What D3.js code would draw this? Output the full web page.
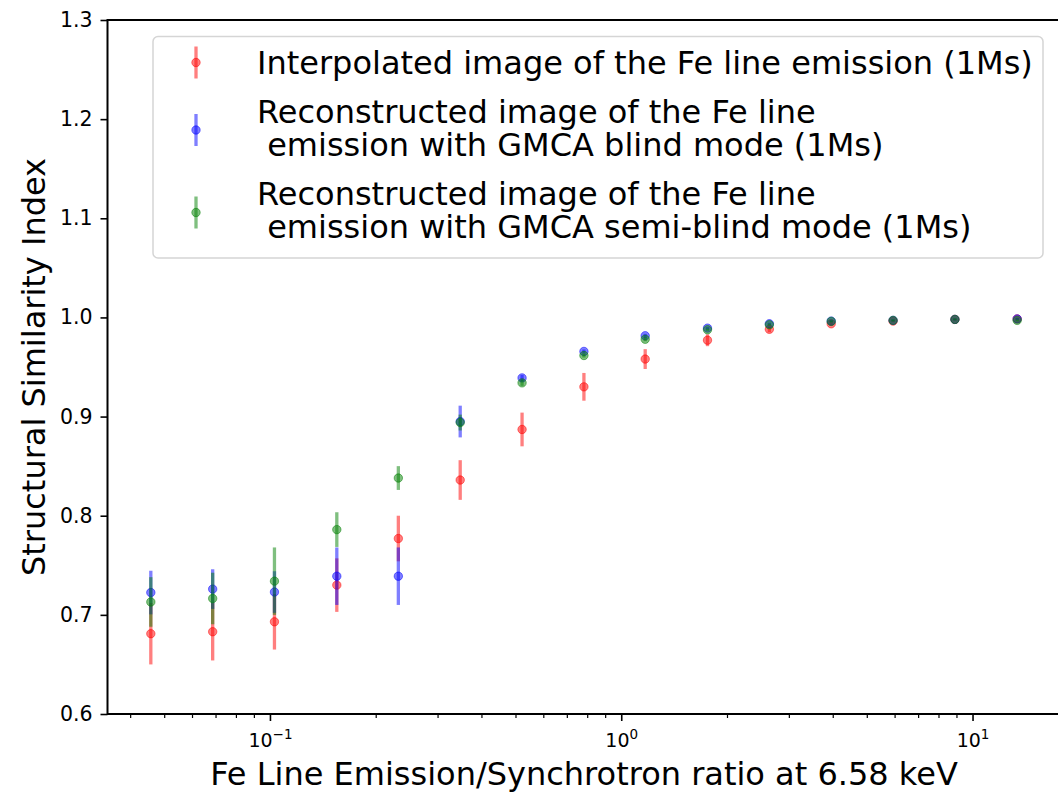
<!DOCTYPE html>
<html>
<head>
<meta charset="utf-8">
<script src="https://cdn.jsdelivr.net/npm/d3@7"></script>
<style>
  body { margin: 0; background: #fff; }
  svg { display: block; font-family: "DejaVu Sans", sans-serif; }
  .leg text { white-space: pre; }
</style>
</head>
<body>
<svg id="chart" width="1058" height="794"></svg>
<script>
// ratio Fe line / synchrotron
var ratios = [0.0458, 0.0687, 0.103, 0.155, 0.232, 0.348, 0.522, 0.783, 1.17, 1.76, 2.64, 3.96, 5.94, 8.91, 13.4];

var interpSSIM = [0.681, 0.683, 0.693, 0.730, 0.777, 0.836, 0.887, 0.930, 0.958, 0.977, 0.988, 0.9936, 0.9963, 0.998, 0.9985];
var interpErr  = [0.031, 0.029, 0.028, 0.027, 0.023, 0.020, 0.017, 0.014, 0.010, 0.006, 0.003, 0.002, 0.001, 0.001, 0.001];

var blindSSIM = [0.7225, 0.726, 0.723, 0.739, 0.739, 0.895, 0.939, 0.9657, 0.9815, 0.9892, 0.9936, 0.9963, 0.997, 0.998, 0.9985];
var blindErr  = [0.022, 0.020, 0.021, 0.029, 0.029, 0.016, 0.003, 0.002, 0.002, 0.001, 0.001, 0.001, 0.001, 0.001, 0.001];

var semiSSIM = [0.713, 0.7165, 0.734, 0.786, 0.838, 0.894, 0.934, 0.9616, 0.978, 0.9876, 0.9926, 0.996, 0.997, 0.998, 0.997];
var semiErr  = [0.025, 0.026, 0.034, 0.0175, 0.012, 0.008, 0.003, 0.002, 0.002, 0.001, 0.001, 0.001, 0.001, 0.001, 0.001];

var seriesNames = [
  ["Interpolated image of the Fe line emission (1Ms)"],
  ["Reconstructed image of the Fe line", " emission with GMCA blind mode (1Ms)"],
  ["Reconstructed image of the Fe line", " emission with GMCA semi-blind mode (1Ms)"]
];
var seriesColors = ["#ff0000", "#0000ff", "#008000"];
var yTicks = [0.6, 0.7, 0.8, 0.9, 1.0, 1.1, 1.2, 1.3];
var xMajor = [0.1, 1, 10];

var svg = d3.select("#chart");
var mLeft = 107.5, mRight = 1060.5, mTop = 20, mBottom = 714;

// log x with 5% margins like matplotlib
var lo = Math.log10(d3.min(ratios)), hi = Math.log10(d3.max(ratios));
var pad = (hi - lo) * 0.05;
var x = d3.scaleLog().domain([Math.pow(10, lo - pad), Math.pow(10, hi + pad)]).range([mLeft, mRight]);
var y = d3.scaleLinear().domain([0.6, 1.3]).range([mBottom, mTop]);

// minor ticks
var xMinor = [];
[0.01, 0.1, 1, 10].forEach(function(d){
  for (var k = 2; k <= 9; k++) {
    var v = d * k;
    if (v > x.domain()[0] && v < x.domain()[1]) xMinor.push(v);
  }
});

var gMinor = svg.append("g")
  .attr("transform", "translate(0," + mBottom + ")")
  .call(d3.axisBottom(x).tickValues(xMinor).tickSize(4).tickFormat(""));
gMinor.select(".domain").remove();
gMinor.selectAll("line").attr("stroke-width", 1.2);

var gx = svg.append("g")
  .attr("transform", "translate(0," + mBottom + ")")
  .call(d3.axisBottom(x).tickValues(xMajor).tickSize(7).tickPadding(6).tickFormat(""));
gx.select(".domain").remove();
gx.selectAll("line").attr("stroke-width", 1.6);
gx.selectAll(".tick text").each(function(d){
  var t = d3.select(this);
  var e = Math.round(Math.log10(d));
  t.attr("fill", "#000").attr("dy", null).attr("y", 33)
    .style("font-family", "DejaVu Sans").style("font-size", "19px");
  t.append("tspan").style("font-size", "19px").text("10");
  t.append("tspan").style("font-size", "13.5px").attr("dy", -8)
    .text(e < 0 ? "\u2212" + (-e) : e);
});

var gy = svg.append("g")
  .attr("transform", "translate(" + mLeft + ",0)")
  .call(d3.axisLeft(y).tickValues(yTicks).tickSize(7).tickPadding(8).tickFormat(d3.format(".1f")));
gy.select(".domain").remove();
gy.selectAll("line").attr("stroke-width", 1.6);
gy.selectAll("text").attr("fill", "#000")
  .style("font-family", "DejaVu Sans").style("font-size", "20.5px");

// spines
svg.append("rect")
  .attr("x", mLeft).attr("y", mTop)
  .attr("width", mRight - mLeft).attr("height", mBottom - mTop)
  .attr("fill", "none").attr("stroke", "#000").attr("stroke-width", 2);

// data
var allSeries = [
  { v: interpSSIM, e: interpErr },
  { v: blindSSIM, e: blindErr },
  { v: semiSSIM, e: semiErr }
];

allSeries.forEach(function(s, i){
  var g = svg.append("g");
  var pts = ratios.map(function(r, j){ return { r: r, v: s.v[j], e: s.e[j] }; });
  g.selectAll("line").data(pts).enter().append("line")
    .attr("x1", function(d){ return x(d.r); })
    .attr("x2", function(d){ return x(d.r); })
    .attr("y1", function(d){ return y(d.v - d.e); })
    .attr("y2", function(d){ return y(d.v + d.e); })
    .attr("stroke", seriesColors[i]).attr("stroke-width", 3.3).attr("stroke-opacity", 0.5);
  g.selectAll("circle").data(pts).enter().append("circle")
    .attr("cx", function(d){ return x(d.r); })
    .attr("cy", function(d){ return y(d.v); })
    .attr("r", 4.2)
    .attr("fill", seriesColors[i]).attr("fill-opacity", 0.5)
    .attr("stroke", seriesColors[i]).attr("stroke-opacity", 0.5).attr("stroke-width", 1);
});

// axis labels
svg.append("text")
  .attr("x", (mLeft + mRight) / 2).attr("y", 785)
  .attr("text-anchor", "middle").attr("font-size", 32)
  .text("Fe Line Emission/Synchrotron ratio at 6.58 keV");

svg.append("text")
  .attr("transform", "translate(45," + ((mTop + mBottom) / 2) + ") rotate(-90)")
  .attr("text-anchor", "middle").attr("font-size", 32)
  .text("Structural Similarity Index");

// legend
var leg = svg.append("g").attr("class", "leg");
leg.append("rect")
  .attr("x", 153).attr("y", 36.5).attr("width", 890).attr("height", 221.5)
  .attr("rx", 5).attr("fill", "#fff").attr("fill-opacity", 0.8)
  .attr("stroke", "#d5d5d5").attr("stroke-width", 1.5);

var handleY = [62.5, 130, 212.5];
var lineBase = [[74], [123, 156], [205, 238]];
seriesNames.forEach(function(lines, i){
  leg.append("line")
    .attr("x1", 196).attr("x2", 196)
    .attr("y1", handleY[i] - 16).attr("y2", handleY[i] + 16)
    .attr("stroke", seriesColors[i]).attr("stroke-width", 3.3).attr("stroke-opacity", 0.5);
  leg.append("circle")
    .attr("cx", 196).attr("cy", handleY[i]).attr("r", 4.2)
    .attr("fill", seriesColors[i]).attr("fill-opacity", 0.5)
    .attr("stroke", seriesColors[i]).attr("stroke-opacity", 0.5).attr("stroke-width", 1);
  lines.forEach(function(t, k){
    leg.append("text")
      .attr("x", 257).attr("y", lineBase[i][k])
      .attr("font-size", 32)
      .text(t);
  });
});
</script>
</body>
</html>
